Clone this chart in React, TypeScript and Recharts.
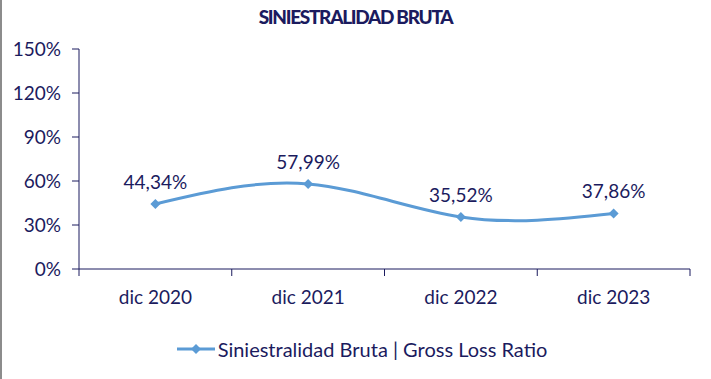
import React from "react";
import { LineChart, Line, XAxis, YAxis, Legend, LabelList } from "recharts";

const title = "SINIESTRALIDAD BRUTA";
const seriesName = "Siniestralidad Bruta | Gross Loss Ratio";
const categories = ["dic 2020", "dic 2021", "dic 2022", "dic 2023"];
const grossLossRatio = [44.34, 57.99, 35.52, 37.86];
const yTicks = [0, 30, 60, 90, 120, 150];

const NAVY = "#1b1b5e";
const BLUE = "#5b9bd5";
const FONT = "Lato, 'Noto Sans', sans-serif";
const FS = 19;

// numeric x so the axis can tick at category boundaries (Excel style)
const data = categories.map((c, i) => ({ pos: i + 0.5, label: c, value: grossLossRatio[i] }));
const xTicks = categories.flatMap((_, i) => [i, i + 0.5]).concat(categories.length);

const fmtPct = (v: number) => v.toFixed(2).replace(".", ",") + "%";

function XTick(props: any) {
  const { x, y, payload } = props;
  const v = payload.value as number;
  if (Number.isInteger(v)) {
    return <line x1={x} x2={x} y1={y} y2={y + 7} stroke={NAVY} strokeWidth={1} />;
  }
  return (
    <text x={x} y={y + 35} textAnchor="middle" fill={NAVY} fontSize={FS} fontFamily={FONT}>
      {categories[Math.floor(v)]}
    </text>
  );
}

function Diamond(props: any) {
  const { cx, cy, index } = props;
  if (cx == null || cy == null) return null;
  const r = 5;
  return (
    <polygon
      key={`d-${index}`}
      points={`${cx},${cy - r} ${cx + r},${cy} ${cx},${cy + r} ${cx - r},${cy}`}
      fill={BLUE}
    />
  );
}

function LegendContent() {
  return (
    <div style={{ height: 24, paddingLeft: 34, display: "flex", justifyContent: "center", alignItems: "center", fontFamily: FONT, fontSize: 20, color: NAVY }}>
      <svg width={38} height={12} style={{ marginRight: 3 }}>
        <line x1={0} x2={38} y1={6} y2={6} stroke={BLUE} strokeWidth={3} />
        <polygon points="19,1 24,6 19,11 14,6" fill={BLUE} />
      </svg>
      <span>{seriesName}</span>
    </div>
  );
}

export default function App() {
  return (
    <div style={{ position: "relative", width: 711, height: 379, background: "#fff", fontFamily: FONT }}>
      <style>{`body{margin:0}`}</style>
      <div style={{ position: "absolute", left: 0, top: 0, width: 2, height: 379, background: "#8c8c8c" }} />
      <div
        style={{
          position: "absolute",
          top: 5,
          left: 0,
          width: 711,
          textAlign: "center",
          fontWeight: 900,
          fontSize: 19,
          letterSpacing: -1.3,
          color: NAVY,
          zIndex: 1,
        }}
      >
        {title}
      </div>
      <LineChart width={711} height={379} data={data} margin={{ top: 49, right: 21, left: 0, bottom: 18 }}>
        <XAxis
          dataKey="pos"
          type="number"
          domain={[0, categories.length]}
          ticks={xTicks}
          interval={0}
          tickSize={0}
          tickMargin={0}
          tickLine={false}
          axisLine={{ stroke: NAVY }}
          tick={<XTick />}
          height={68}
        />
        <YAxis
          domain={[0, 150]}
          ticks={yTicks}
          interval={0}
          width={79}
          tickSize={7}
          tickMargin={11}
          axisLine={{ stroke: NAVY }}
          tickLine={{ stroke: NAVY }}
          tickFormatter={(v: number) => `${v}%`}
          tick={{ fill: NAVY, fontSize: FS, fontFamily: FONT }}
        />
        <Legend verticalAlign="bottom" content={<LegendContent />} />
        <Line
          type="natural"
          dataKey="value"
          name={seriesName}
          stroke={BLUE}
          strokeWidth={3}
          dot={<Diamond />}
          activeDot={false}
          isAnimationActive={false}
        >
          <LabelList
            dataKey="value"
            position="top"
            offset={15}
            formatter={(v: any) => fmtPct(Number(v))}
            fill={NAVY}
            fontSize={FS}
            fontFamily={FONT}
          />
        </Line>
      </LineChart>
    </div>
  );
}
